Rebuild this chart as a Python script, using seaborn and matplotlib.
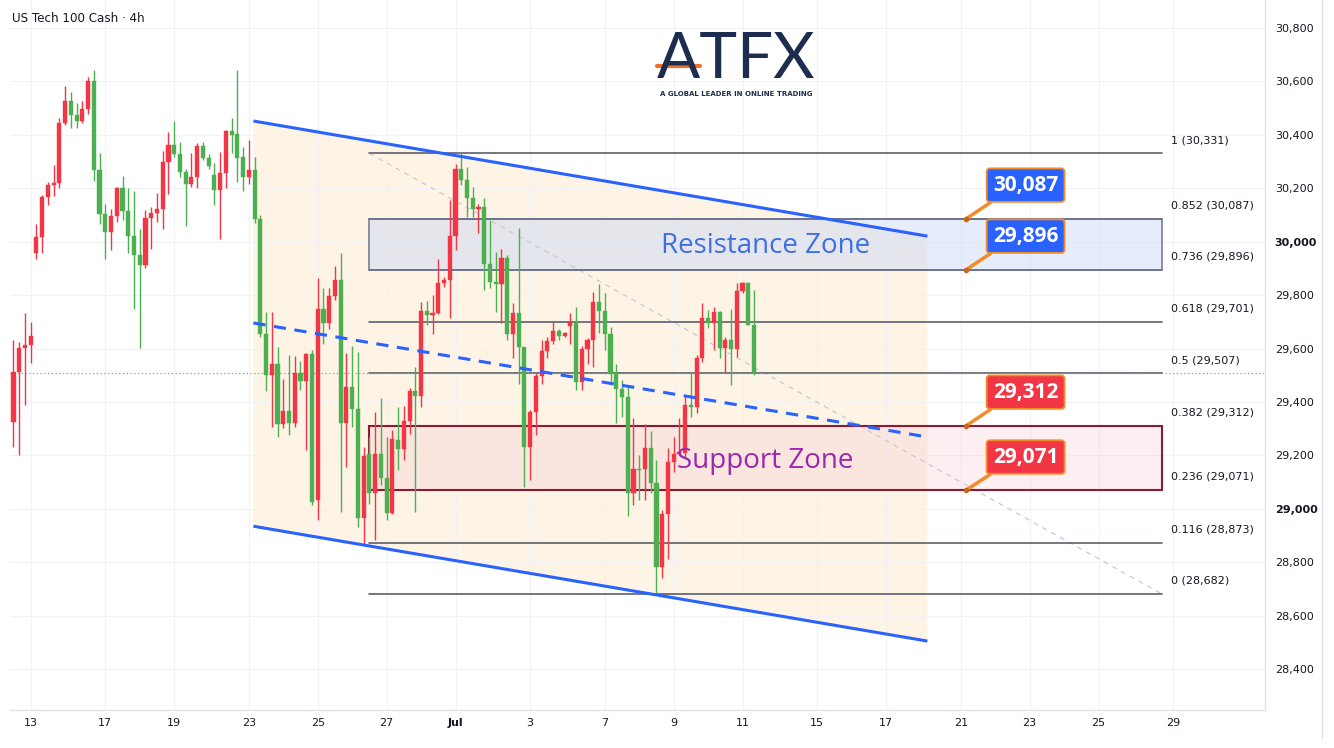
import numpy as np
import pandas as pd
import matplotlib
matplotlib.use('Agg')
import matplotlib.pyplot as plt
import seaborn as sns
from matplotlib.lines import Line2D
from matplotlib.patches import Rectangle

# 4h candles, US Tech 100 Cash (open, high, low, close)
opens = [29326, 29513, 29604, 29613, 29956, 30019, 30166, 30212, 30221, 30443,
         30527, 30474, 30452, 30497, 30603, 30268, 30102, 30036, 30097, 30202,
         30116, 30022, 29950, 29912, 30090, 30106, 30121, 30299, 30362, 30327,
         30262, 30218, 30243, 30359, 30314, 30249, 30193, 30258, 30414, 30403,
         30318, 30241, 30268, 30087, 29654, 29501, 29542, 29317, 29367, 29322,
         29509, 29479, 29578, 29033, 29747, 29694, 29796, 29856, 29322, 29457,
         29373, 28964, 29204, 29058, 29204, 29114, 28983, 29257, 29224, 29330,
         29441, 29423, 29741, 29726, 29735, 29846, 29856, 30022, 30271, 30231,
         30165, 30121, 30131, 29915, 29850, 29841, 29941, 29654, 29735, 29607,
         29230, 29363, 29497, 29590, 29629, 29667, 29649, 29685, 29698, 29476,
         29600, 29632, 29775, 29742, 29653, 29505, 29449, 29420, 29060, 29149,
         29148, 29226, 29098, 28783, 28980, 29176, 29205, 29208, 29389, 29380,
         29563, 29716, 29694, 29736, 29601, 29634, 29598, 29817, 29844, 29688]
highs = [29632, 29625, 29732, 29700, 30065, 30175, 30224, 30289, 30462, 30583,
         30559, 30520, 30528, 30615, 30643, 30331, 30140, 30121, 30205, 30246,
         30200, 30191, 30046, 30118, 30131, 30183, 30341, 30412, 30453, 30374,
         30274, 30333, 30368, 30374, 30327, 30293, 30337, 30420, 30462, 30643,
         30353, 30380, 30318, 30100, 29738, 29738, 29607, 29488, 29576, 29572,
         29554, 29582, 29594, 29863, 29825, 29825, 29910, 29959, 29582, 29609,
         29586, 29232, 29270, 29363, 29416, 29270, 29295, 29382, 29385, 29451,
         29532, 29775, 29779, 29800, 29934, 29869, 30156, 30291, 30331, 30278,
         30206, 30143, 30165, 30081, 29962, 29971, 29950, 29771, 30053, 29607,
         29370, 29507, 29632, 29644, 29700, 29673, 29663, 29732, 29757, 29609,
         29640, 29813, 29842, 29807, 29682, 29541, 29482, 29457, 29339, 29201,
         29317, 29292, 29183, 28995, 29226, 29270, 29341, 29420, 29513, 29576,
         29769, 29744, 29754, 29742, 29644, 29747, 29844, 29850, 29850, 29819]
lows = [29232, 29201, 29388, 29547, 29934, 29959, 30137, 30171, 30203, 30437,
        30424, 30424, 30443, 30480, 30228, 30068, 29934, 29969, 30075, 30081,
        29959, 29747, 29604, 29902, 29972, 30075, 30047, 30178, 30318, 30243,
        30058, 30206, 30203, 30306, 30271, 30137, 30010, 30203, 30333, 30224,
        30190, 30218, 30071, 29644, 29441, 29305, 29270, 29301, 29276, 29305,
        29445, 29220, 29014, 28958, 29619, 29675, 29781, 28989, 29157, 29305,
        28933, 28864, 29020, 28883, 29089, 28958, 28980, 29145, 29182, 29282,
        28989, 29382, 29688, 29654, 29729, 29831, 29713, 29969, 30212, 30093,
        30093, 30031, 29819, 29825, 29738, 29694, 29632, 29563, 29469, 29083,
        29108, 29276, 29469, 29563, 29619, 29632, 29644, 29617, 29445, 29445,
        29544, 29532, 29657, 29594, 29476, 29320, 29345, 28973, 29014, 29033,
        29035, 29060, 28683, 28743, 28811, 29139, 29201, 29195, 29345, 29357,
        29551, 29676, 29594, 29563, 29507, 29463, 29567, 29809, 29688, 29501]
closes = [29513, 29604, 29615, 29647, 30019, 30166, 30212, 30221, 30443, 30527,
          30474, 30452, 30497, 30603, 30268, 30102, 30036, 30097, 30202, 30116,
          30022, 29950, 29912, 30090, 30108, 30121, 30299, 30362, 30327, 30262,
          30218, 30243, 30359, 30314, 30283, 30193, 30258, 30415, 30399, 30312,
          30241, 30268, 30087, 29654, 29501, 29544, 29317, 29367, 29322, 29509,
          29479, 29578, 29026, 29747, 29694, 29796, 29856, 29322, 29457, 29373,
          28964, 29199, 29058, 29204, 29114, 28983, 29260, 29224, 29330, 29442,
          29423, 29741, 29726, 29735, 29844, 29856, 30022, 30271, 30231, 30165,
          30121, 30131, 29915, 29850, 29841, 29941, 29654, 29735, 29607, 29230,
          29363, 29497, 29590, 29629, 29667, 29648, 29657, 29698, 29476, 29600,
          29632, 29773, 29742, 29653, 29505, 29449, 29417, 29060, 29148, 29145,
          29226, 29098, 28783, 28980, 29176, 29205, 29214, 29389, 29380, 29563,
          29716, 29694, 29736, 29601, 29634, 29598, 29817, 29844, 29688, 29507]

# date axis (candle index where each day label sits)
date_labels = ['13', '17', '19', '23', '25', '27', 'Jul', '3', '7', '9', '11',
               '15', '17', '21', '23', '25', '29']
date_pos = [3, 16, 28, 41, 53, 65, 77, 90, 103, 115, 127, 140, 152, 165, 177, 189, 202]
price_ticks = list(range(28400, 30801, 200))

# fibonacci retracement
fib_ratios = ['1', '0.852', '0.736', '0.618', '0.5', '0.382', '0.236', '0.116', '0']
fib_levels = [30331, 30087, 29896, 29701, 29507, 29312, 29071, 28873, 28682]
fib_span = [62, 200]

# descending channel and mid dashed line
channel_x = [41.8, 159.2]
channel_upper = [30452, 30021]
channel_lower = [28935, 28505]
mid_line = [29696, 29269]

last_price = 29507
callouts = [(30087, '#2962ff'), (29896, '#2962ff'), (29312, '#f23645'), (29071, '#f23645')]

df = pd.DataFrame({'open': opens, 'high': highs, 'low': lows, 'close': closes})
df['idx'] = np.arange(len(df))
df['up'] = df['close'] >= df['open']

sns.set_theme(style='white')
plt.rcParams['font.family'] = ['DejaVu Sans']

fig = plt.figure(figsize=(13.34, 7.48), dpi=100)
ax = fig.add_axes([10 / 1334, 38 / 748, 1255 / 1334, 710 / 748])

up_col, dn_col = '#f23645', '#4caf50'
colors = np.where(df['up'], up_col, dn_col)

# channel shading
ax.fill([channel_x[0], channel_x[1], channel_x[1], channel_x[0]],
        [channel_upper[0], channel_upper[1], channel_lower[1], channel_lower[0]],
        color='#fdf4e5', zorder=0.5, lw=0)

# zones
ax.add_patch(Rectangle((fib_span[0], fib_levels[2]), fib_span[1] - fib_span[0],
                       fib_levels[1] - fib_levels[2], facecolor='#c9d7f3', alpha=0.45,
                       edgecolor='none', zorder=0.6))
ax.add_patch(Rectangle((fib_span[0], fib_levels[6]), fib_span[1] - fib_span[0],
                       fib_levels[5] - fib_levels[6], facecolor='#f6c4d0', alpha=0.28,
                       edgecolor='none', zorder=0.6))

# fib trend line
ax.plot(fib_span, [fib_levels[0], fib_levels[-1]], color='#c8cad1', lw=0.9,
        ls=(0, (4, 4)), zorder=0.8)

# fib levels
for ratio, lvl in zip(fib_ratios, fib_levels):
    ax.plot(fib_span, [lvl, lvl], color='#5d606b', lw=1.2, zorder=1)
    ax.annotate(f'{ratio} ({lvl:,})', (fib_span[1] + 1.6, lvl), xytext=(0, 9.5),
                textcoords='offset points', va='center', ha='left', fontsize=8,
                color='#131722')

# zone borders
ax.add_patch(Rectangle((fib_span[0], fib_levels[2]), fib_span[1] - fib_span[0],
                       fib_levels[1] - fib_levels[2], facecolor='none',
                       edgecolor='#6d7590', lw=1.1, zorder=1.1))
ax.add_patch(Rectangle((fib_span[0], fib_levels[6]), fib_span[1] - fib_span[0],
                       fib_levels[5] - fib_levels[6], facecolor='none',
                       edgecolor='#8e1b36', lw=1.5, zorder=1.1))

# last price dotted line
ax.axhline(last_price, color='#9598a1', lw=0.9, ls=(0, (1, 2)), zorder=1)

# candles
ax.vlines(df['idx'], df['low'], df['high'], colors=colors, lw=1, zorder=2)
body = (df['close'] - df['open']).abs().clip(lower=6)
ax.bar(df['idx'], body, bottom=df[['open', 'close']].min(axis=1), width=0.72,
       color=colors, edgecolor=colors, lw=0.3, zorder=3)

# channel lines
ax.plot(channel_x, channel_upper, color='#2962ff', lw=2.2, zorder=4, solid_capstyle='butt')
ax.plot(channel_x, channel_lower, color='#2962ff', lw=2.2, zorder=4, solid_capstyle='butt')
ax.plot(channel_x, mid_line, color='#2962ff', lw=2.2, zorder=4, dashes=(4, 2.8))

# zone labels
ax.text(131, 29984, 'Resistance Zone', ha='center', va='center', fontsize=20,
        color='#3d6fe4', family='Open Sans', zorder=5)
ax.text(131, 29179, 'Support Zone', ha='center', va='center', fontsize=20,
        color='#9c27b0', family='Open Sans', zorder=5)

# price callouts
box_y = [30212, 30021, 29437, 29194]
for (lvl, col), by in zip(callouts, box_y):
    ax.annotate(f'{lvl:,}', xy=(166, lvl), xytext=(176.3, by), ha='center', va='center',
                fontsize=15, fontweight='bold', color='white', family='Open Sans',
                bbox=dict(boxstyle='round,pad=0.3,rounding_size=0.15', fc=col,
                          ec='#f28c28', lw=1.3),
                arrowprops=dict(arrowstyle='-', color='#f28c28', lw=2.5,
                                relpos=(0.12, 0), shrinkA=0, shrinkB=0), zorder=6)
    ax.plot(166, lvl, 'o', color='#c8651b', ms=3, zorder=6)

# axes formatting
ax.set_xlim(-0.6, 218)
ax.set_ylim(28247, 30905)
ax.set_xticks(date_pos)
ax.set_xticklabels(date_labels)
ax.set_yticks(price_ticks)
ax.set_yticklabels([f'{p:,}' for p in price_ticks])
ax.yaxis.tick_right()
ax.tick_params(axis='both', length=0, labelsize=8, labelcolor='#131722')
ax.tick_params(axis='y', pad=7)
ax.tick_params(axis='x', pad=6)
for lab in ax.get_yticklabels():
    if lab.get_text() in ('30,000', '29,000'):
        lab.set_fontweight('bold')
for lab in ax.get_xticklabels():
    if lab.get_text() == 'Jul':
        lab.set_fontweight('bold')
ax.grid(True, color='#f0f2f6', lw=0.8)
for side in ['top', 'left']:
    ax.spines[side].set_visible(False)
for side in ['right', 'bottom']:
    ax.spines[side].set_color('#e0e3eb')
    ax.spines[side].set_linewidth(1)
ax.set_facecolor('white')

# title and logo
fig.text(12 / 1334, 1 - 18 / 748, 'US Tech 100 Cash · 4h', fontsize=8.6, color='#131722',
         va='center', ha='left')
fig.text(736 / 1334, 1 - 60 / 748, 'ATFX', ha='center', va='center', fontsize=46,
         color='#1c2d4f', family='Lato', fontweight='normal')
fig.text(736 / 1334, 1 - 94 / 748, 'A GLOBAL LEADER IN ONLINE TRADING', ha='center',
         va='center', fontsize=5, color='#1c2d4f', fontweight='bold')
fig.add_artist(Line2D([657 / 1334, 700 / 1334], [1 - 66 / 748, 1 - 66 / 748],
                      color='#f0712c', lw=3, transform=fig.transFigure))
fig.add_artist(Line2D([1322 / 1334, 1322 / 1334], [10 / 748, 1], color='#e0e3eb', lw=1,
                      transform=fig.transFigure))

fig.savefig('out.png', dpi=100, facecolor='white')
